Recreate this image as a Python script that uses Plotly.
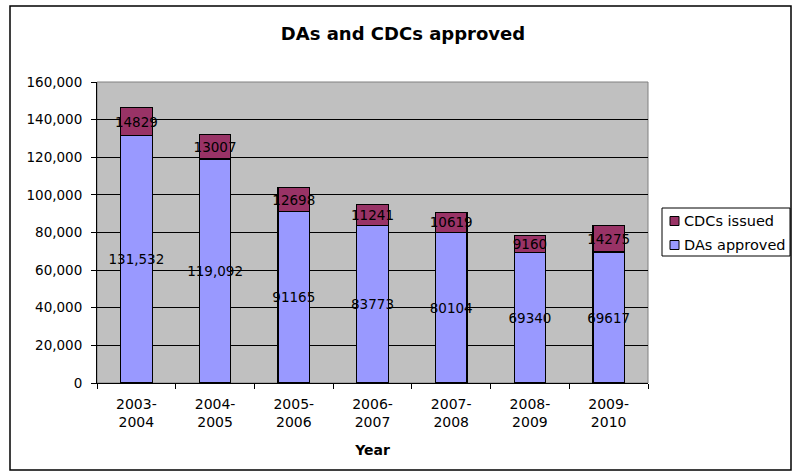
import plotly.graph_objects as go

categories = ["2003-<br>2004", "2004-<br>2005", "2005-<br>2006", "2006-<br>2007",
              "2007-<br>2008", "2008-<br>2009", "2009-<br>2010"]
das_approved = [131532, 119092, 91165, 83773, 80104, 69340, 69617]
cdcs_issued = [14829, 13007, 12698, 11241, 10619, 9160, 14275]
das_labels = ["131,532", "119,092", "91165", "83773", "80104", "69340", "69617"]
cdcs_labels = [str(v) for v in cdcs_issued]

FONT = "DejaVu Sans, Liberation Sans, Arial, sans-serif"
DA_COLOR = "#9999FF"
CDC_COLOR = "#993366"

fig = go.Figure()
fig.add_trace(go.Bar(
    x=categories, y=das_approved, name="DAs approved",
    marker=dict(color=DA_COLOR, line=dict(color="black", width=1.2)),
    text=das_labels, textposition="inside", insidetextanchor="middle", textangle=0,
    textfont=dict(color="black", size=13.5, family=FONT), width=0.4,
))
fig.add_trace(go.Bar(
    x=categories, y=cdcs_issued, name="CDCs issued",
    marker=dict(color=CDC_COLOR, line=dict(color="black", width=1.2)),
    text=cdcs_labels, textposition="inside", insidetextanchor="middle", textangle=0,
    textfont=dict(color="black", size=13.5, family=FONT), width=0.4,
))

L, R, T, B = 97, 147, 82, 89
W, H = 795, 472
pw, ph = W - L - R, H - T - B

def px_x(x):
    return (x - L) / pw

def px_y(y):
    return (H - B - y) / ph

shapes = [
    dict(type="rect", xref="paper", yref="paper", x0=0, x1=1, y0=0, y1=1,
         line=dict(color="#808080", width=1), layer="below"),
    dict(type="rect", xref="paper", yref="paper",
         x0=px_x(10), x1=px_x(791), y0=px_y(470), y1=px_y(6),
         line=dict(color="black", width=1.5)),
    # legend box
    dict(type="rect", xref="paper", yref="paper",
         x0=px_x(662), x1=px_x(790), y0=px_y(256), y1=px_y(208),
         line=dict(color="black", width=1), fillcolor="white"),
]
annotations = []
legend_items = [("CDCs issued", CDC_COLOR, 221), ("DAs approved", DA_COLOR, 245)]
for name, color, yc in legend_items:
    shapes.append(dict(type="rect", xref="paper", yref="paper",
                       x0=px_x(670), x1=px_x(679), y0=px_y(yc + 4.5), y1=px_y(yc - 4.5),
                       line=dict(color="black", width=1), fillcolor=color))
    annotations.append(dict(text=name, xref="paper", yref="paper",
                            x=px_x(682), y=px_y(yc), xanchor="left", yanchor="middle",
                            showarrow=False, font=dict(size=14.5, family=FONT, color="black")))

fig.update_layout(
    barmode="stack",
    width=W, height=H,
    margin=dict(l=L, r=R, t=T, b=B, autoexpand=False),
    paper_bgcolor="white",
    plot_bgcolor="#C0C0C0",
    font=dict(family=FONT, size=13, color="black"),
    uniformtext=dict(minsize=13.5, mode="show"),
    title=dict(text="<b>DAs and CDCs approved</b>", x=403 / W, xanchor="center",
               y=1 - 34 / H, yanchor="middle", font=dict(size=18, family=FONT)),
    showlegend=False,
    xaxis=dict(title=dict(text="<b>Year</b>", font=dict(size=14), standoff=16),
               showline=True, linecolor="black", linewidth=1,
               ticks="outside", tickson="boundaries", ticklen=5, tickcolor="black",
               ticklabelstandoff=8,
               showgrid=False, tickfont=dict(size=14)),
    yaxis=dict(range=[0, 160000], dtick=20000, tickformat=",",
               showline=True, linecolor="black", linewidth=1,
               ticks="outside", ticklen=5, tickcolor="black",
               ticklabelstandoff=6,
               showgrid=True, gridcolor="black", gridwidth=1,
               tickfont=dict(size=13.5), zeroline=False),
    shapes=shapes,
    annotations=annotations,
)

fig.write_html("out.html")
